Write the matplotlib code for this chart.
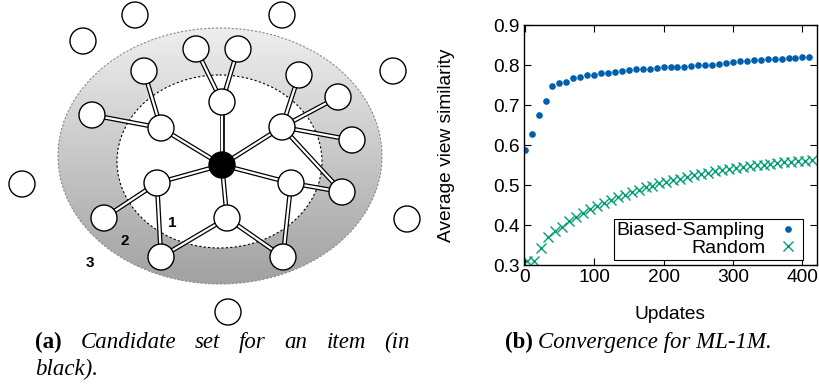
#!/usr/bin/python3
"""Candidate set diagram (a) and convergence of view similarity (b)."""
import matplotlib
matplotlib.use("Agg")
import numpy as np
import matplotlib.pyplot as plt
from matplotlib.patches import Ellipse, Circle

# ================== Data: (b) convergence for ML-1M ================== #
biased_updates = list(range(0, 420, 10))
biased_sim = [0.587, 0.628, 0.674, 0.710, 0.748, 0.754, 0.757, 0.767, 0.770,
              0.774, 0.775, 0.780, 0.781, 0.782, 0.785, 0.787, 0.789, 0.790,
              0.790, 0.793, 0.796, 0.796, 0.796, 0.796, 0.797, 0.799, 0.799,
              0.801, 0.803, 0.805, 0.808, 0.809, 0.811, 0.813, 0.813, 0.814,
              0.814, 0.816, 0.817, 0.818, 0.819, 0.819]

random_updates = list(range(4, 424, 10))
random_sim = [0.310, 0.310, 0.343, 0.371, 0.384, 0.396, 0.410, 0.421, 0.431,
              0.440, 0.448, 0.455, 0.463, 0.469, 0.475, 0.482, 0.488, 0.494,
              0.498, 0.504, 0.508, 0.512, 0.516, 0.520, 0.524, 0.528, 0.531,
              0.534, 0.537, 0.540, 0.542, 0.545, 0.547, 0.549, 0.551, 0.553,
              0.555, 0.557, 0.558, 0.560, 0.561, 0.563]

series_labels = ["Biased-Sampling", "Random"]
x_ticks = [0, 100, 200, 300, 400]
y_ticks = [0.3, 0.4, 0.5, 0.6, 0.7, 0.8, 0.9]

# ================== Data: (a) candidate set diagram (pixel coords) ================== #
hub = (222, 165)
node_pos = {
    "A": (161, 128), "B": (222, 102), "C": (282, 127),
    "D": (157, 183), "E": (291, 183), "F": (227, 218),
    "A1": (144, 71), "A2": (92, 115), "B1": (196, 49), "B2": (238, 49),
    "C1": (299, 75), "C2": (338, 97), "C3": (352, 140), "C4": (342, 192),
    "D1": (104, 218), "D2": (161, 257), "E2": (283, 257),
}
hub_links = ["A", "B", "C", "D", "E", "F"]
links = [("A", "A1"), ("A", "A2"), ("B", "B1"), ("B", "B2"),
         ("C", "C1"), ("C", "C2"), ("C", "C3"), ("C", "C4"),
         ("E", "C4"), ("D", "D1"), ("D", "D2"), ("F", "D2"),
         ("E", "E2"), ("F", "E2")]
loose_nodes = [(135, 15), (83, 41), (282, 15), (393, 71),
               (22, 184), (407, 219), (228, 312)]
ring_labels = ["1", "2", "3"]
ring_label_pos = [(172, 223), (125, 241), (90, 263)]

caption_a = ["(a)", "Candidate", "set", "for", "an", "item", "(in"]
caption_a2 = "black)."
caption_b = ["(b)", "Convergence for ML-1M."]

plt.rcParams["font.family"] = ["Liberation Sans", "DejaVu Sans"]

fig = plt.figure(figsize=(8.2, 3.87), dpi=100)

# full-figure canvas in pixel units for the diagram and captions
canvas = fig.add_axes([0, 0, 1, 1])
canvas.set_xlim(0, 820)
canvas.set_ylim(387, 0)
canvas.axis("off")

# ================== (a) diagram ================== #
grad = np.linspace(0.93, 0.63, 256).reshape(-1, 1)
outer = Ellipse((220, 156), 324, 256, facecolor="none", edgecolor="#8a8a8a",
                lw=0.8, ls=(0, (2, 1.5)), zorder=2)
canvas.add_patch(outer)
im = canvas.imshow(grad, cmap="gray", vmin=0, vmax=1, origin="upper",
                   extent=(58, 382, 284, 28), aspect="auto", zorder=1)
im.set_clip_path(outer)
canvas.set_xlim(0, 820)
canvas.set_ylim(387, 0)

inner = Ellipse((219.5, 161.5), 205, 173, facecolor="white", edgecolor="black",
                lw=0.8, ls=(0, (2, 2)), zorder=3)
canvas.add_patch(inner)

edge_list = [(hub, node_pos[n]) for n in hub_links]
edge_list += [(node_pos[a], node_pos[b]) for a, b in links]
for p, q in edge_list:
    canvas.plot([p[0], q[0]], [p[1], q[1]], color="black", lw=3.4,
                solid_capstyle="butt", zorder=4)
    canvas.plot([p[0], q[0]], [p[1], q[1]], color="white", lw=1.6,
                solid_capstyle="butt", zorder=5)

for xy in list(node_pos.values()) + loose_nodes:
    canvas.add_patch(Circle(xy, 13, facecolor="white", edgecolor="black",
                            lw=1.0, zorder=6))
canvas.add_patch(Circle(hub, 13, facecolor="black", edgecolor="black",
                        lw=1.0, zorder=6))

for lab, (lx, ly) in zip(ring_labels, ring_label_pos):
    canvas.text(lx, ly, lab, fontsize=11, fontweight="bold", ha="center",
                va="center", zorder=7)

# ================== captions ================== #
cap_size = 16.5
renderer = fig.canvas.get_renderer()


def place_words(words, x0, y, x1=None, gap=5.5):
    texts = []
    for i, word in enumerate(words):
        bold = i == 0
        t = canvas.text(0, y, word, fontsize=cap_size, family="Liberation Serif",
                        fontweight="bold" if bold else "normal",
                        fontstyle="normal" if bold else "italic",
                        ha="left", va="baseline")
        texts.append(t)
    widths = [t.get_window_extent(renderer).width for t in texts]
    if x1 is not None:
        gap = (x1 - x0 - sum(widths)) / (len(texts) - 1)
    x = x0
    for t, w in zip(texts, widths):
        t.set_x(x)
        x += w + gap


place_words(caption_a, 35, 348, x1=410)
canvas.text(35, 375, caption_a2, fontsize=cap_size, family="Liberation Serif",
            fontstyle="italic", ha="left", va="baseline")
place_words(caption_b, 505, 348)

# ================== (b) scatter plot ================== #
ax = fig.add_axes([524 / 820, (387 - 265) / 387, 293 / 820, 240 / 387])
ax.plot(biased_updates, biased_sim, "o", ms=4.8, color="#0060ad", mec="none",
        label=series_labels[0])
ax.plot(random_updates, random_sim, "x", ms=6.5, mew=1.0, color="#009e73",
        label=series_labels[1])

ax.set_xlim(-1, 421)
ax.set_ylim(0.3, 0.9)
ax.set_xticks(x_ticks)
ax.set_yticks(y_ticks)
ax.set_yticklabels([f"{v:.1f}" for v in y_ticks])
ax.tick_params(direction="in", top=True, right=True, length=5, width=0.8,
               labelsize=13.8, pad=3)
for s in ax.spines.values():
    s.set_linewidth(1.0)

ax.set_xlabel("Updates", fontsize=13.8)
ax.set_ylabel("Average view similarity", fontsize=13.8)
ax.xaxis.set_label_coords(0.498, -0.172)
ax.yaxis.set_label_coords(-0.234, 0.5)

leg = ax.legend(loc="lower right", bbox_to_anchor=(0.952, 0.021),
                borderaxespad=0, markerfirst=False, fontsize=14,
                fancybox=False, framealpha=1, edgecolor="black",
                handlelength=1.2, handletextpad=0.6, labelspacing=0.0,
                borderpad=0.15)
leg.get_frame().set_linewidth(0.8)

fig.savefig("out.png", dpi=100)
